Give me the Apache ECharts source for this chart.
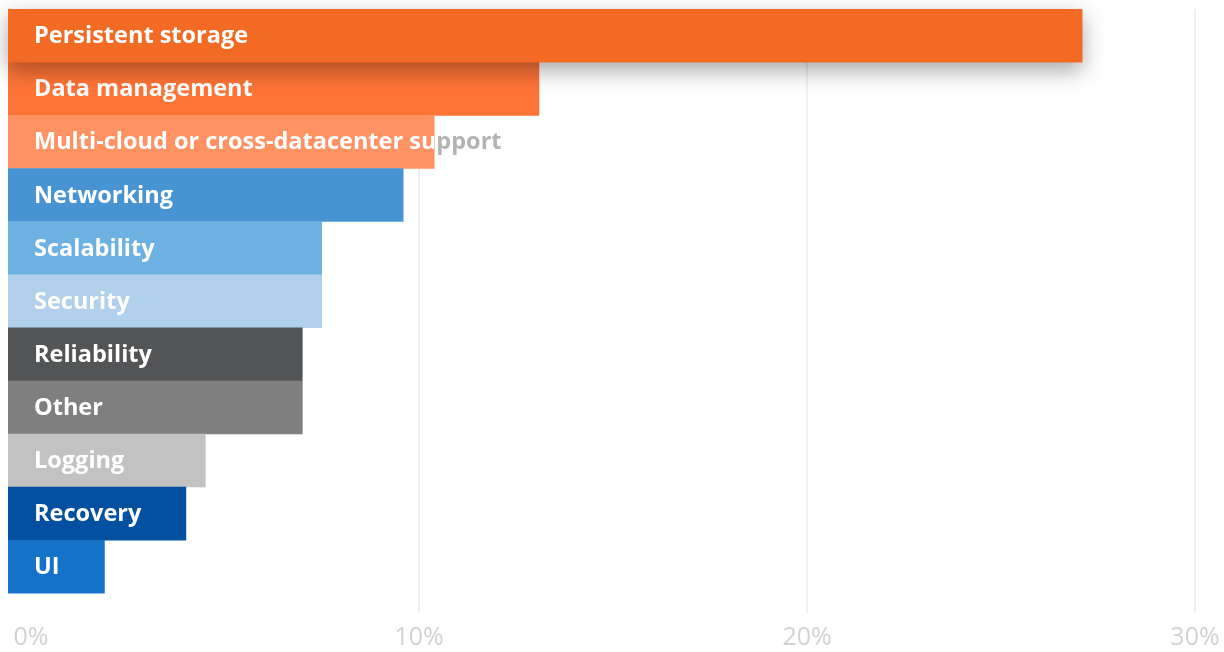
<!DOCTYPE html>
<html>
<head>
<meta charset="utf-8">
<title>Container challenges</title>
<script src="https://cdn.jsdelivr.net/npm/echarts@6/dist/echarts.min.js"></script>
<style>
  html, body { margin: 0; padding: 0; background: #fff; }
  #chart { width: 1224px; height: 652px; }
</style>
</head>
<body>
<div id="chart"></div>
<script>
// categories, top to bottom
const categories = [
  'Persistent storage',
  'Data management',
  'Multi-cloud or cross-datacenter support',
  'Networking',
  'Scalability',
  'Security',
  'Reliability',
  'Other',
  'Logging',
  'Recovery',
  'UI'
];

// share of respondents (%)
const values = [27.1, 13.1, 10.4, 9.6, 7.5, 7.5, 7.0, 7.0, 4.5, 4.0, 1.9];

// one colour per bar
const barColors = [
  '#f36a24', '#fe7436', '#fe9262',
  '#4893d1', '#6db1e3', '#b0d0ec',
  '#535456', '#7f7f7f', '#c2c2c2',
  '#02509f', '#1473c8'
];

// x axis ticks
const labelTicks = [0, 10, 20, 30];
const gridTicks = [10, 20, 30];

let chart = null;

document.addEventListener('DOMContentLoaded', function() {
  chart = echarts.init(document.getElementById('chart'));
  chart.setOption(getOption());
});

/**
 * Draw one bar with its label; the part of the label running past
 * the end of the bar is shown in grey.
 */
function renderBar(params, api) {
  const i = params.dataIndex;
  const cat = api.value(1);
  const end = api.coord([api.value(0), cat]);
  const bandH = api.size([0, 1])[1];
  const left = params.coordSys.x;

  const rect = {
    x: left,
    y: end[1] - bandH / 2,
    width: end[0] - left,
    height: bandH + 0.5
  };
  const base = i === 0 ? 100 : i * 3;
  const textStyle = {
    text: categories[i],
    x: left + 26,
    y: end[1] + 1,
    fontFamily: 'Open Sans',
    fontSize: 23.5,
    fontWeight: 'bold',
    verticalAlign: 'middle'
  };

  const barStyle = { fill: barColors[i] };
  if (i === 0) {
    barStyle.shadowBlur = 22;
    barStyle.shadowOffsetY = 8;
    barStyle.shadowColor = 'rgba(0, 0, 0, 0.35)';
  }

  return {
    type: 'group',
    children: [
      {
        type: 'text',
        z2: base,
        style: Object.assign({}, textStyle, { fill: '#b3b3b3' })
      },
      {
        type: 'rect',
        z2: base + 1,
        shape: rect,
        style: barStyle
      },
      {
        type: 'group',
        clipPath: { type: 'rect', shape: rect },
        children: [{
          type: 'text',
          z2: base + 2,
          style: Object.assign({}, textStyle, { fill: '#ffffff' })
        }]
      }
    ]
  };
}

/**
 * Chart options
 */
function getOption() {
  return {
    animation: false,
    grid: { left: 8, right: 29, top: 9, bottom: 59, containLabel: false },
    xAxis: {
      type: 'value',
      min: -0.593,
      max: 30,
      splitNumber: 3,
      axisLine: { show: false },
      axisTick: {
        show: true,
        customValues: gridTicks,
        length: 20,
        lineStyle: { color: '#f0f0f0', width: 2 }
      },
      splitLine: {
        show: true,
        lineStyle: { color: '#f0f0f0', width: 2 }
      },
      axisLabel: {
        customValues: labelTicks,
        formatter: '{value}%',
        color: '#d2d2d2',
        fontFamily: 'Open Sans',
        fontSize: 25,
        margin: 32
      }
    },
    yAxis: {
      type: 'category',
      data: categories,
      inverse: true,
      axisLine: { show: false },
      axisTick: { show: false },
      axisLabel: { show: false },
      splitLine: { show: false }
    },
    series: [{
      type: 'custom',
      renderItem: renderBar,
      encode: { x: 0, y: 1 },
      data: values.map((v, i) => [v, categories[i]])
    }]
  };
}
</script>
</body>
</html>
